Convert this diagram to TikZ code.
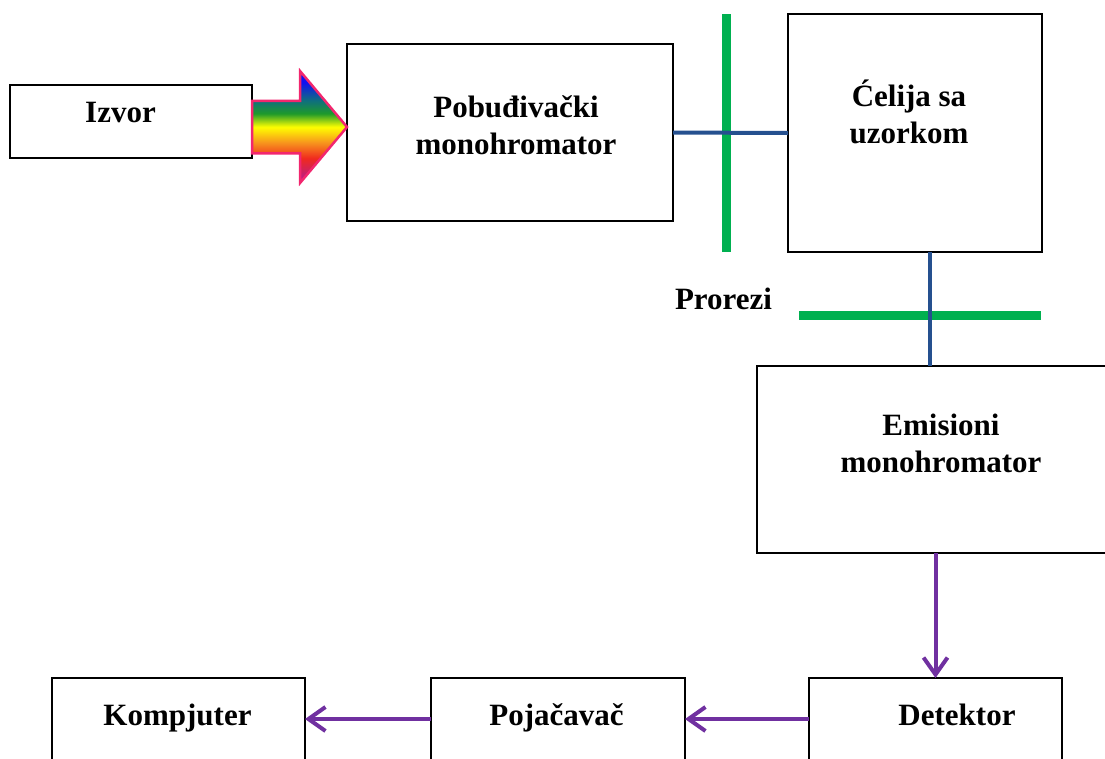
\documentclass[tikz,border=0pt]{standalone}
\usepackage{fontspec}
\setmainfont{Liberation Serif}
\usetikzlibrary{arrows.meta,positioning,calc,shapes.arrows}
\definecolor{beamblue}{HTML}{25508F}
\definecolor{slitgreen}{HTML}{00B050}
\definecolor{sigpurple}{HTML}{7030A0}
\definecolor{rimpink}{HTML}{F2266E}
\definecolor{rbpurple}{HTML}{B01A9A}
\definecolor{rbred}{HTML}{F02A1E}
\definecolor{rborange}{HTML}{F7941D}
\definecolor{rbyellow}{HTML}{FFFF00}
\definecolor{rbgreen}{HTML}{1E9A2A}
\definecolor{rbteal}{HTML}{0E6E80}
\definecolor{rbblue}{HTML}{1010F0}
\pgfdeclareverticalshading{rainbow}{100bp}{color(0bp)=(rbpurple); color(25bp)=(rbpurple); color(36bp)=(rbred); color(43bp)=(rborange); color(50bp)=(rbyellow); color(56bp)=(rbgreen); color(62bp)=(rbteal); color(70bp)=(rbblue); color(100bp)=(rbblue)}

\begin{document}
\begin{tikzpicture}[x=1pt,y=-1pt,
  box/.style={draw,line width=2.8pt,inner sep=0pt,outer sep=0pt},
  txt/.style={font=\fontsize{31}{37}\selectfont\bfseries,align=center,inner sep=0pt},
  beam/.style={beamblue,line width=4pt},
  slit/.style={slitgreen,line width=9pt},
  ar/.style={sigpurple,line width=4pt,-{Straight Barb[length=17pt,width=24pt]}},
  light/.style={shape=single arrow,single arrow head extend=29.5pt,single arrow tip angle=100,
    inner xsep=0pt,inner ysep=25pt,minimum height=95pt,outer sep=0pt,
    shading=rainbow,draw=rimpink,line width=2.5pt},
]
\useasboundingbox (0,0) rectangle (1105,758);
\clip (0,0) rectangle (1105,758);

% top row: source and excitation side
\node[box,minimum width=242pt,minimum height=73pt] (izvor) at (131,121.5) {};
\node[txt,anchor=base] (izvort) at (120.5,122) {Izvor};
\node[box,minimum width=326pt,minimum height=177pt] (pobud) at (510,132.5) {};
\node[txt] (pobudt) at (516,125) {Pobuđivački\\monohromator};
\node[box,minimum width=254pt,minimum height=238pt] (celija) at (915,133) {};
\node[txt] (celijat) at (909,112) {Ćelija sa\\uzorkom};
\coordinate (mid) at ($(izvor.east)!0.5!(pobud.west)$);
\node[light,anchor=tail] (snop) at (mid -| izvor.east) {};

% slits
\draw[slit] (726,14) -- (726,252);
\draw[slit] (799,315) -- (1041,315);
\node[txt,anchor=base] (prorezi) at (723.5,309) {Prorezi};
\draw[beam] (pobud.east) -- (celija.west);

% emission side
\node[box,minimum width=363pt,minimum height=187pt] (emis) at (938.5,459.5) {};
\node[txt] (emist) at (941,443) {Emisioni\\monohromator};
\draw[beam] ([xshift=15pt]celija.south) -- ([xshift=15pt]celija.south |- emis.north);

% bottom row: signal chain
\node[box,minimum width=253pt,minimum height=82pt] (detek) at (935.5,719) {};
\node[txt,anchor=base] (detekt) at (957,725) {Detektor};
\node[box,minimum width=254pt,minimum height=82pt] (pojac) at (558,719) {};
\node[txt,anchor=base] (pojact) at (556.5,725) {Pojačavač};
\node[box,minimum width=253pt,minimum height=82pt] (komp) at (178.5,719) {};
\node[txt,anchor=base] (kompt) at (177.5,725) {Kompjuter};
\draw[ar] (detek.north |- emis.south) -- (detek.north);
\draw[ar] (detek.west) -- (pojac.east);
\draw[ar] (pojac.west) -- (komp.east);
\end{tikzpicture}
\end{document}
